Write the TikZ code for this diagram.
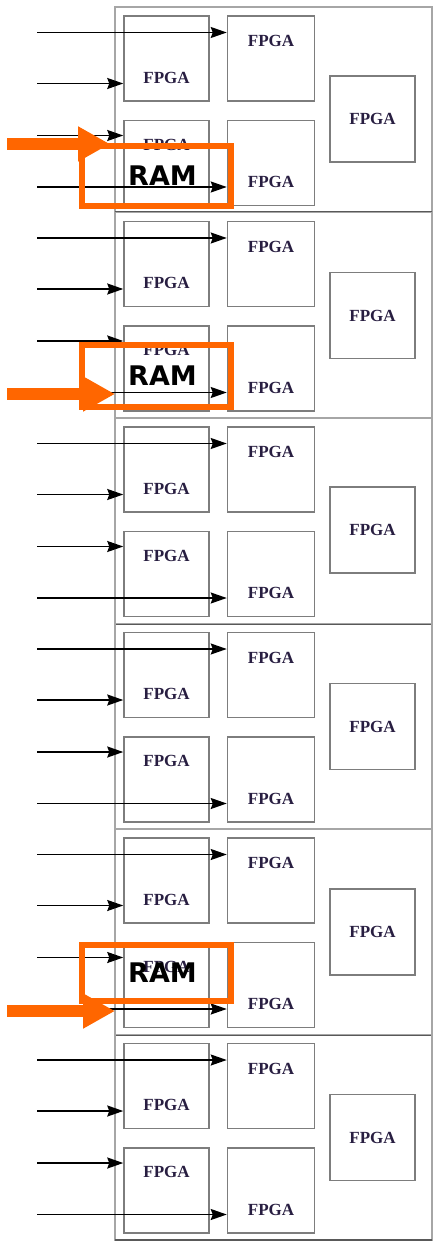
\documentclass[tikz,border=0pt]{standalone}
\usepackage{fontspec}
\usepackage{xcolor}
\usepackage{tikz}
\usetikzlibrary{shapes,arrows.meta,positioning,calc}
\newfontfamily\fpgafont{Liberation Serif}
\newfontfamily\ramfont{DejaVu Sans}
\definecolor{ramorange}{RGB}{255,102,0}
\definecolor{fpgaink}{RGB}{40,30,65}
\definecolor{boxgray}{RGB}{125,125,125}

\begin{document}
\begin{tikzpicture}[
    x=1pt, y=-1pt,
    node distance=18pt and 17pt,
    board/.style={rectangle, draw=gray!70, line width=1.2pt, outer sep=0pt, minimum width=317pt, minimum height=205.5pt},
    sep/.style={draw=black!65, line width=2pt},
    fpga/.style={rectangle, draw=boxgray, line width=1.5pt, minimum width=85pt, minimum height=85pt, inner sep=0pt},
    wide/.style={fpga, minimum width=87pt},
    tag/.style={font=\fpgafont\bfseries\fontsize{17}{17}\selectfont, text=fpgaink, anchor=center, inner sep=0pt},
    feed/.style={-{Stealth[length=16pt, width=11pt, inset=2pt]}, line width=1.6pt, draw=black},
    ram/.style={rectangle, draw=ramorange, line width=6pt, minimum width=149pt, inner sep=0pt, font=\ramfont\bfseries\fontsize{27}{27}\selectfont},
    hot/.style={-{Triangle[length=32pt, width=33pt]}, line width=12pt, draw=ramorange}
]
    \useasboundingbox (0,0) rectangle (434,1246);

    \foreach \s/\t/\e in {1/7/69, 2/212.5/60, 3/418/69, 4/623.5/60, 5/829/60, 6/1034.5/60} {
        \node [board] (s\s) at (273.5,{\t+102.75}) {};
        \draw [sep] (s\s.south west) -- (s\s.south east);

        \node [fpga, label={[tag, yshift=24pt]south:FPGA}] (a\s) at (166.5,{\t+51.5}) {};
        \node [wide, right=of a\s, label={[tag, yshift=-26pt]north:FPGA}] (b\s) {};
        \node [fpga, below=of a\s, label={[tag, yshift=-25pt]north:FPGA}] (c\s) {};
        \node [wide, right=of c\s, label={[tag, yshift=24pt]south:FPGA}] (d\s) {};
        \node [fpga, minimum height=86pt, label={[tag]center:FPGA}] (e\s) at (372.5,{\t+\e+43}) {};

        \coordinate (p\s1) at (37,{\t+25.5});
        \coordinate (p\s2) at (37,{\t+76.5});
        \coordinate (p\s3) at (37,{\t+128.5});
        \coordinate (p\s4) at (37,{\t+180});

        \draw [feed] (p\s1) -- (p\s1 -| b\s.west);
        \draw [feed] (p\s2) -- (p\s2 -| a\s.west);
        \draw [feed] (p\s3) -- (p\s3 -| c\s.west);
        \draw [feed] (p\s4) -- (p\s4 -| d\s.west);
    }

    \node [ram, minimum height=60pt] (ram1) at (156.5,176) {\kern12pt RAM};
    \node [ram, minimum height=62pt] (ram2) at (156.5,376) {\kern12pt RAM};
    \node [ram, minimum height=56pt] (ram3) at (156.5,973) {\kern12pt RAM};

    \coordinate (h1) at (7,144);
    \coordinate (h2) at (7,394);
    \coordinate (h3) at (7,1011);
    \coordinate (t1) at (110,144);
    \coordinate (t2) at (115,394);
    \coordinate (t3) at (115,1011);

    \draw [hot] (h1) -- (t1);
    \draw [hot] (h2) -- (t2);
    \draw [hot] (h3) -- (t3);
\end{tikzpicture}
\end{document}
